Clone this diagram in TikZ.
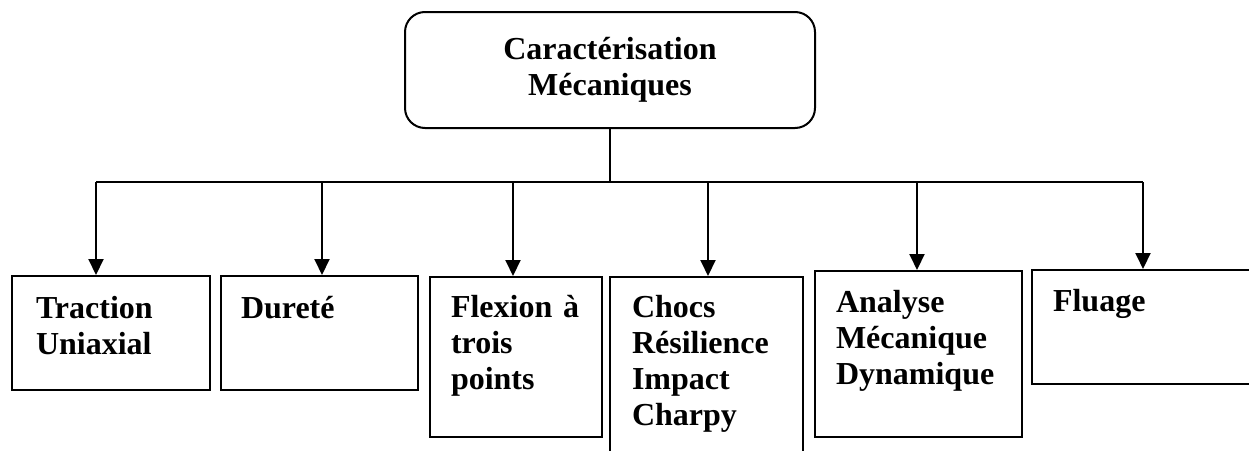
\documentclass[tikz,border=0pt]{standalone}
\usepackage{fontspec}
\setmainfont{Liberation Serif}
\usetikzlibrary{arrows.meta}

\begin{document}
\begin{tikzpicture}[x=1pt, y=-1pt,
	root/.style={draw, line width=2pt, rounded corners=20pt, minimum width=410pt, minimum height=116pt, align=center, font=\fontsize{32}{35.5}\selectfont\bfseries},
	leaf/.style={draw, line width=2pt, anchor=north west, align=left, inner ysep=0pt, font=\fontsize{32}{36}\selectfont\bfseries},
	bus/.style={line width=2pt},
	arr/.style={line width=2pt, -{Triangle[length=16pt,width=15pt]}}]
	\useasboundingbox (0,0) rectangle (1249,450);
	\clip (0,0) rectangle (1249,450);

	\node at (610,70) [root] (c0) {Caractérisation\\Mécaniques};
	\node at (11,275) [leaf, inner xsep=24pt, text width=150pt, text height=42pt, text depth=72pt] (c1) {Traction\\Uniaxial};
	\node at (220,275) [leaf, inner xsep=20pt, text width=157pt, text height=42pt, text depth=72pt] (c2) {Dureté};
	\node at (429,276) [leaf, inner xsep=21pt, text width=130pt, text height=40pt, text depth=120pt] (c3) {Flexion à\\trois\\points};
	\node at (609,276) [leaf, inner xsep=22pt, text width=149pt, text height=40pt, text depth=180pt] (c4) {Chocs\\Résilience\\Impact\\Charpy};
	\node at (814,270) [leaf, inner xsep=21pt, text width=165pt, text height=41pt, text depth=125pt] (c5) {Analyse\\Mécanique\\Dynamique};
	\node at (1031,269) [leaf, inner xsep=21pt, text width=220pt, text height=41pt, text depth=73pt] (c6) {Fluage};

	\coordinate (j0) at (610,182);
	\coordinate (j1) at (96,182);
	\coordinate (j2) at (322,182);
	\coordinate (j3) at (513,182);
	\coordinate (j4) at (708,182);
	\coordinate (j5) at (917,182);
	\coordinate (j6) at (1143,182);

	\draw [bus] (c0) -- (j0);
	\draw [bus] (j1) -- (j6);
	\draw [arr] (j1) -- (j1 |- c1.north);
	\draw [arr] (j2) -- (j2 |- c2.north);
	\draw [arr] (j3) -- (j3 |- c3.north);
	\draw [arr] (j4) -- (j4 |- c4.north);
	\draw [arr] (j5) -- (j5 |- c5.north);
	\draw [arr] (j6) -- (j6 |- c6.north);
\end{tikzpicture}
\end{document}
